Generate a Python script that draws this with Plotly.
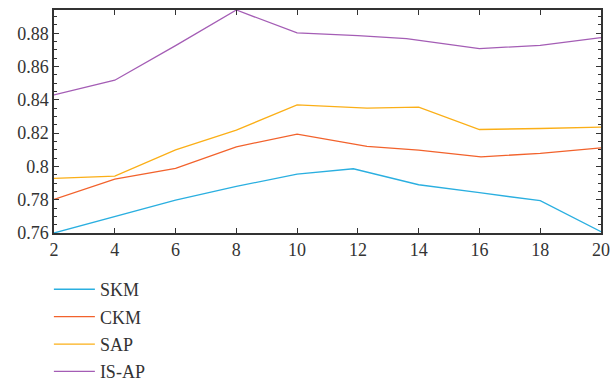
import plotly.graph_objects as go

x_skm = [2, 4, 6, 8, 10, 11.85, 14, 16, 18, 20]
skm = [0.760, 0.770, 0.7798, 0.788, 0.7954, 0.7986, 0.789, 0.7842, 0.7794, 0.7608]

x_ckm = [2, 4, 6, 8, 10, 12.3, 14, 16.05, 18, 20]
ckm = [0.7802, 0.7924, 0.7988, 0.8118, 0.8194, 0.812, 0.8098, 0.8058, 0.8078, 0.8112]

x_sap = [2, 4, 6, 8, 10, 12.3, 14, 16, 18, 20]
sap = [0.7928, 0.7942, 0.810, 0.8218, 0.837, 0.835, 0.8356, 0.8222, 0.8228, 0.8236]

x_isap = [2, 4, 6, 8, 10, 12, 13.6, 16, 18, 20]
isap = [0.843, 0.8518, 0.8726, 0.894, 0.8802, 0.8786, 0.8768, 0.8708, 0.8728, 0.8774]

names = ["SKM", "CKM", "SAP", "IS-AP"]
colors = ["#2aafe0", "#f2622c", "#fbaf17", "#a45db5"]

xtick_vals = [2, 4, 6, 8, 10, 12, 14, 16, 18, 20]
ytick_vals = [0.76, 0.78, 0.80, 0.82, 0.84, 0.86, 0.88]
ytick_text = ["0.76", "0.78", "0.8", "0.82", "0.84", "0.86", "0.88"]

fig = go.Figure()
for i, (xs, ys) in enumerate([(x_skm, skm), (x_ckm, ckm), (x_sap, sap), (x_isap, isap)]):
    fig.add_trace(go.Scatter(x=xs, y=ys, mode="lines", name=names[i],
                             line=dict(color=colors[i], width=1.3),
                             legendgroup=names[i]))

font = dict(family="Liberation Serif", size=18, color="#333333")
fig.update_layout(
    width=611, height=385,
    margin=dict(l=54, r=10, t=10, b=152, autoexpand=False),
    paper_bgcolor="white", plot_bgcolor="white",
    font=font,
    showlegend=True,
    legend=dict(xref="container", yref="container", x=0.080, xanchor="left",
                y=0.296, yanchor="top", orientation="v", itemwidth=41,
                tracegroupgap=1, font=font,
                bgcolor="rgba(0,0,0,0)"),
    xaxis=dict(range=[2, 20], tickvals=xtick_vals, ticks="inside", ticklen=5,
               showline=True, linecolor="#333333", linewidth=1.5, mirror="allticks",
               tickcolor="#333333", showgrid=False, zeroline=False, tickfont=font),
    yaxis=dict(range=[0.76, 0.894], tickvals=ytick_vals, ticktext=ytick_text,
               ticks="inside", ticklen=5, showline=True, linecolor="#333333",
               linewidth=1.5, mirror="allticks", tickcolor="#333333",
               showgrid=False, zeroline=False, tickfont=font,
               minor=dict(ticks="inside", ticklen=3, dtick=0.005, tick0=0.76,
                          tickcolor="#333333", showgrid=False)),
)
fig.write_html("out.html", config={"displayModeBar": False},
               post_script="document.body.style.margin='0';")
